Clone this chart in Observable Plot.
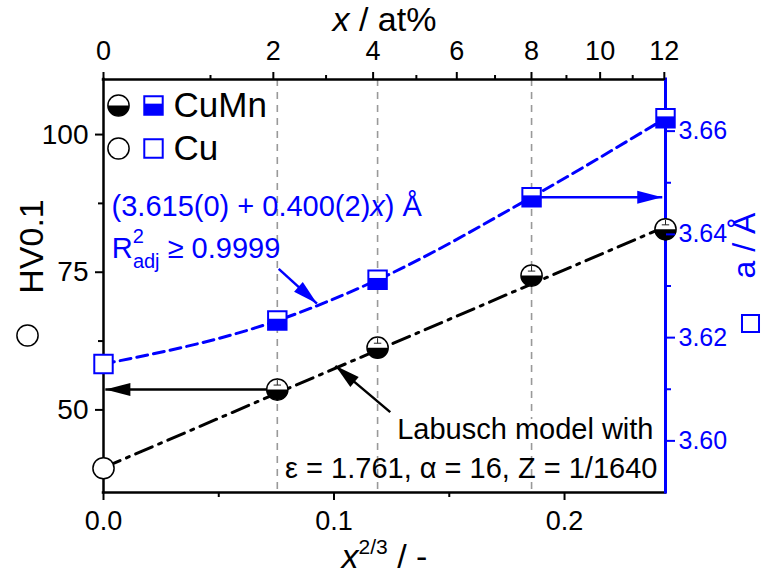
<!DOCTYPE html>
<html><head><meta charset="utf-8">
<script src="https://cdn.jsdelivr.net/npm/d3@7"></script>
<script src="https://cdn.jsdelivr.net/npm/@observablehq/plot@0.6"></script>
<style>body{margin:0;background:#fff} svg{display:block}</style>
</head><body><div id="chart"></div>
<script>
// ---------- data ----------
const samples   = ["Cu", "CuMn2", "CuMn4", "CuMn8", "CuMn12"];
const xPow      = [0, 0.0754, 0.1189, 0.1857, 0.2438];        // x^(2/3)
const hardness  = [39.4, 53.7, 61.3, 74.4, 82.8];              // HV0.1
const lattice   = [3.6149, 3.6233, 3.6312, 3.6472, 3.6625];    // a / Å
const labuschX  = [0, 0.2438];
const labuschHV = [39.5, 83.3];
const bottomTicks = [0, 0.1, 0.2];
const bottomMinor = [0.05, 0.15];
const leftTicks   = [50, 75, 100];
const leftMinor   = [62.5, 87.5];
const rightTicks  = [3.60, 3.62, 3.64, 3.66];
const rightMinor  = [3.61, 3.63, 3.65];
const topTicks    = [0, 2, 4, 6, 8, 10, 12];   // at%
const topMinor    = [1, 3, 5, 7, 9, 11];
const legendNames = ["CuMn", "Cu"];

// ---------- layout / scales ----------
const W = 763, H = 576;
const M = {left: 103, right: 98, top: 79, bottom: 84};
const xDomain = [0, 0.2438], hvDomain = [35, 110], aDomain = [3.59, 3.67];
const BLUE = "#0000ff";
const FONT = "'Liberation Sans', Arial, sans-serif";
const toHV = a => hvDomain[0] + (a - aDomain[0]) / (aDomain[1] - aDomain[0]) * (hvDomain[1] - hvDomain[0]);
const fromHV = h => aDomain[0] + (h - hvDomain[0]) / (hvDomain[1] - hvDomain[0]) * (aDomain[1] - aDomain[0]);
const pctPos = p => Math.pow(p / 100, 2 / 3);
const kx = (W - M.left - M.right) / (xDomain[1] - xDomain[0]);
const ky = (H - M.top - M.bottom) / (hvDomain[1] - hvDomain[0]);

const rows = samples.map((s, i) => ({s, x: xPow[i], hv: hardness[i], a: lattice[i]}));
const alloys = rows.slice(1), pure = rows.slice(0, 1);
const guides = rows.slice(1, 4);
const labusch = labuschX.map((x, i) => ({x, hv: labuschHV[i]}));

// annotations (x in x^(2/3), y in HV0.1)
const arrowsBlack = [
  {x1: xPow[1], y1: hardness[1], x2: 0.0008, y2: hardness[1]},
  {x1: 0.1244, y1: 49.6, x2: 0.1006, y2: 58.0}
];
const arrowsBlue = [
  {x1: xPow[3], y1: toHV(lattice[3]), x2: 0.2424, y2: toHV(lattice[3])},
  {x1: 0.0760, y1: 75.6, x2: 0.0926, y2: 69.3}
];
const noteFormula = [{x: 0.0035, y: 85.2, t: "(3.615(0) + 0.400(2)x) Å"}];
const noteR2      = [{x: 0.0036, y: 77.5, t: "R2adj ≥ 0.9999"}];
const noteModel1  = [{x: 0.2386, y: 44.8, t: "Labusch model with"}];
const noteModel2  = [{x: 0.2403, y: 37.7, t: "ε = 1.761, α = 16, Z = 1/1640"}];

// ---------- custom symbols ----------
const halfDisk = {draw(ctx, size) { const r = Math.sqrt(size / Math.PI); ctx.moveTo(r, 0); ctx.arc(0, 0, r, 0, Math.PI); ctx.closePath(); }};
const lowerSquare = {draw(ctx, size) { const w = Math.sqrt(size); ctx.rect(-w / 2, -w / 2 + 0.4 * w, w, 0.6 * w); }};
const errTick = {draw(ctx, size) { const r = Math.sqrt(size / Math.PI); ctx.moveTo(-0.35 * r, -0.42 * r); ctx.lineTo(0.35 * r, -0.42 * r); ctx.moveTo(0, -0.42 * r); ctx.lineTo(0, -0.9 * r); }};
function head(a, len = 25, wid = 13) {
  let ux = (a.x2 - a.x1) * kx, uy = -(a.y2 - a.y1) * ky;
  const n = Math.hypot(ux, uy); ux /= n; uy /= n;
  return {draw(ctx) {
    const bx = -len * ux, by = -len * uy, px = -uy * wid / 2, py = ux * wid / 2;
    ctx.moveTo(0, 0); ctx.lineTo(bx + px, by + py); ctx.lineTo(bx - px, by - py); ctx.closePath();
  }};
}
const R = 10.6, RS = 10.4;
function circleMarks(data, o, half, tick) {
  const m = [Plot.dot(data, {...o, r: R, fill: "white", stroke: "none"})];
  if (half) m.push(Plot.dot(data, {...o, r: R, symbol: halfDisk, fill: "black", stroke: "none"}));
  if (tick) m.push(Plot.dot(data, {...o, r: R, symbol: errTick, fill: "none", stroke: "#222", strokeWidth: 1}));
  m.push(Plot.dot(data, {...o, r: R, fill: "none", stroke: "black", strokeWidth: 1.5}));
  return m;
}
function squareMarks(data, o, half, rs = RS) {
  const m = [Plot.dot(data, {...o, r: rs, symbol: "square", fill: "white", stroke: "none"})];
  if (half) m.push(Plot.dot(data, {...o, r: rs, symbol: lowerSquare, fill: BLUE, stroke: "none"}));
  m.push(Plot.dot(data, {...o, r: rs, symbol: "square", fill: "none", stroke: BLUE, strokeWidth: 2}));
  return m;
}
function arrowMarks(list, color) {
  return list.map(a => [
    Plot.link([a], {x1: "x1", y1: "y1", x2: "x2", y2: "y2", stroke: color, strokeWidth: 2.5}),
    Plot.dot([a], {x: "x2", y: "y2", symbol: head(a), fill: color, stroke: "none"})
  ]);
}
const aY = d => toHV(d.a);

const chart = Plot.plot({
  width: W, height: H,
  marginLeft: M.left, marginRight: M.right, marginTop: M.top, marginBottom: M.bottom,
  x: {domain: xDomain},
  y: {domain: hvDomain},
  style: {fontFamily: FONT, fontSize: "26px", background: "white", color: "black", overflow: "visible"},
  marks: [
    Plot.ruleX(guides, {x: "x", stroke: "#999", strokeWidth: 1.6, strokeDasharray: "7,6"}),
    // frame lines
    Plot.ruleY([hvDomain[0], hvDomain[1]], {stroke: "black", strokeWidth: 2.5, strokeLinecap: "square"}),
    Plot.ruleX([xDomain[0]], {stroke: "black", strokeWidth: 2.5, strokeLinecap: "square"}),
    Plot.ruleX([xDomain[1]], {stroke: BLUE, strokeWidth: 3, strokeLinecap: "square"}),
    // curves
    Plot.line(rows, {x: "x", y: aY, stroke: BLUE, strokeWidth: 3, strokeDasharray: "11,6", curve: "monotone-x"}),
    Plot.line(labusch, {x: "x", y: "hv", stroke: "black", strokeWidth: 3, strokeDasharray: "18,7,3,7"}),
    // arrows
    arrowMarks(arrowsBlack, "black"),
    arrowMarks(arrowsBlue, BLUE),
    // markers
    squareMarks(pure, {x: "x", y: aY}, false),
    squareMarks(alloys, {x: "x", y: aY}, true),
    circleMarks(pure, {x: "x", y: "hv"}, false, false),
    circleMarks(alloys, {x: "x", y: "hv"}, true, true),
    // legend
    circleMarks([0], {frameAnchor: "top-left", dx: 15, dy: 26}, true, false),
    squareMarks([0], {frameAnchor: "top-left", dx: 50, dy: 26}, true),
    circleMarks([0], {frameAnchor: "top-left", dx: 15, dy: 69}, false, false),
    squareMarks([0], {frameAnchor: "top-left", dx: 50, dy: 69}, false),
    Plot.text([legendNames[0]], {frameAnchor: "top-left", dx: 70, dy: 26, textAnchor: "start", lineAnchor: "middle", fontSize: 35}),
    Plot.text([legendNames[1]], {frameAnchor: "top-left", dx: 70, dy: 69, textAnchor: "start", lineAnchor: "middle", fontSize: 35}),
    // annotations
    Plot.text(noteFormula, {x: "x", y: "y", text: "t", textAnchor: "start", lineAnchor: "bottom", fill: BLUE, fontSize: 29}),
    Plot.text(noteR2, {x: "x", y: "y", text: "t", textAnchor: "start", lineAnchor: "bottom", fill: BLUE, fontSize: 29}),
    Plot.text(noteModel1, {x: "x", y: "y", text: "t", textAnchor: "end", lineAnchor: "bottom", fill: "black", stroke: "white", strokeWidth: 8, paintOrder: "stroke", fontSize: 29}),
    Plot.text(noteModel2, {x: "x", y: "y", text: "t", textAnchor: "end", lineAnchor: "bottom", fill: "black", fontSize: 29}),
    // axis titles
    Plot.text(["x / at%"], {frameAnchor: "top", dy: -49, textAnchor: "middle", lineAnchor: "bottom", fontSize: 34}),
    Plot.text(["x2/3 / -"], {frameAnchor: "bottom", dy: 75, textAnchor: "middle", lineAnchor: "bottom", fontSize: 34}),
    Plot.text(["HV0.1"], {frameAnchor: "left", dx: -61, dy: -39.5, rotate: -90, textAnchor: "middle", lineAnchor: "bottom", fontSize: 34}),
    circleMarks([0], {frameAnchor: "left", dx: -76, dy: 49.5}, false, false),
    Plot.text(["a / Å"], {frameAnchor: "right", dx: 89, dy: -40.5, rotate: -90, textAnchor: "middle", lineAnchor: "bottom", fill: BLUE, fontSize: 32}),
    squareMarks([0], {frameAnchor: "right", dx: 85, dy: 37.5}, false, 9.6),
    // axes
    Plot.axisX(bottomTicks, {anchor: "bottom", label: null, tickSize: 8, tickPadding: 10, strokeWidth: 2, fontSize: 27, tickFormat: d => d.toFixed(1)}),
    Plot.axisX(bottomMinor, {anchor: "bottom", label: null, tickSize: 5, strokeWidth: 2, tickFormat: () => ""}),
    Plot.axisX(topTicks.map(pctPos), {anchor: "top", label: null, tickSize: 8, tickPadding: 12, strokeWidth: 2, fontSize: 27, tickFormat: d => String(Math.round(Math.pow(d, 1.5) * 100))}),
    Plot.axisX(topMinor.map(pctPos), {anchor: "top", label: null, tickSize: 5, strokeWidth: 2, tickFormat: () => ""}),
    Plot.axisY(leftTicks, {anchor: "left", label: null, tickSize: 8, tickPadding: 7, strokeWidth: 2, fontSize: 28, tickFormat: d => String(d)}),
    Plot.axisY(leftMinor, {anchor: "left", label: null, tickSize: 5, strokeWidth: 2, tickFormat: () => ""}),
    Plot.axisY(rightTicks.map(toHV), {anchor: "right", label: null, tickSize: 9, tickPadding: 4, strokeWidth: 2, fontSize: 25, color: BLUE, tickFormat: d => fromHV(d).toFixed(2)}),
    Plot.axisY(rightMinor.map(toHV), {anchor: "right", label: null, tickSize: 5, strokeWidth: 2, color: BLUE, tickFormat: () => ""})
  ]
});

// rich text (italics, super/subscripts)
const rich = {
  "x / at%": '<tspan font-style="italic">x</tspan> / at%',
  "x2/3 / -": '<tspan font-style="italic">x</tspan><tspan dy="-14" font-size="21">2/3</tspan><tspan dy="14"> / -</tspan>',
  "(3.615(0) + 0.400(2)x) Å": '(3.615(0) + 0.400(2)<tspan font-style="italic">x</tspan>) Å',
  "R2adj ≥ 0.9999": 'R<tspan dy="-15" font-size="20">2</tspan><tspan dx="-11" dy="25" font-size="20">adj</tspan><tspan dy="-10"> ≥ 0.9999</tspan>'
};
chart.querySelectorAll("text").forEach(t => {
  const k = t.textContent;
  if (rich[k]) t.innerHTML = rich[k];
});
document.getElementById("chart").appendChild(chart);
</script>
</body></html>
